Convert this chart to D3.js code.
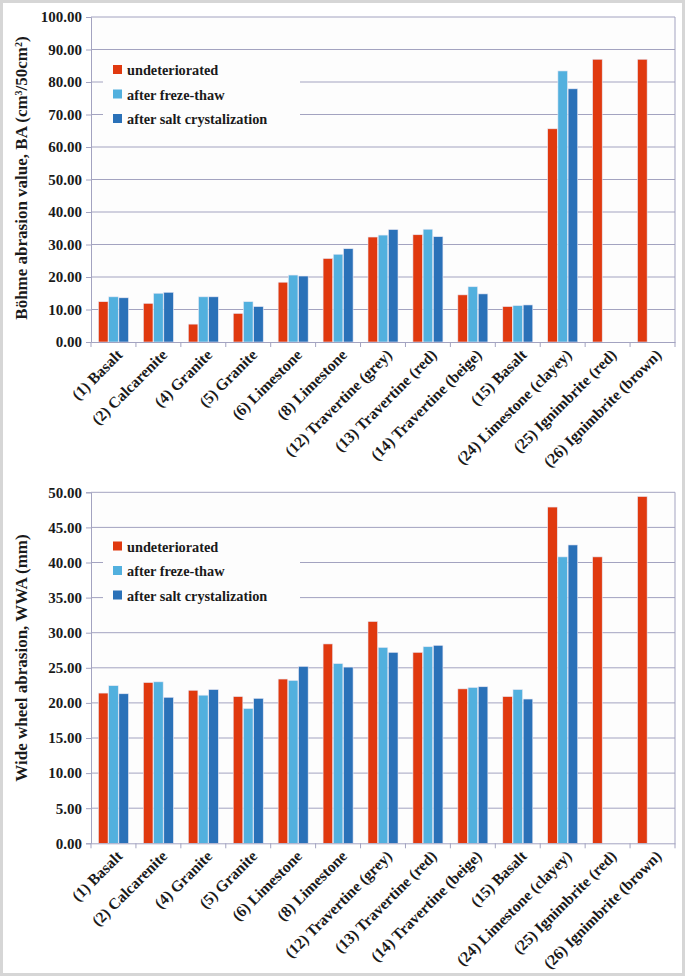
<!DOCTYPE html>
<html>
<head>
  <meta charset="utf-8">
  <title>Abrasion values</title>
  <script src="https://d3js.org/d3.v7.min.js"></script>
  <style>
    body { margin: 0; background: #fff; }
    text { font-family: "Liberation Serif", "DejaVu Serif Condensed", "DejaVu Serif", serif; font-weight: bold; fill: #1a1a1a; }
  </style>
</head>
<body>
  <div id="chart"></div>
  <script>
    var serif = '"Liberation Serif", "DejaVu Serif Condensed", "DejaVu Serif", serif';

    // categories (rock samples)
    var categories = ["(1) Basalt", "(2) Calcarenite", "(4) Granite", "(5) Granite", "(6) Limestone",
      "(8) Limestone", "(12) Travertine (grey)", "(13) Travertine (red)", "(14) Travertine (beige)",
      "(15) Basalt", "(24) Limestone (clayey)", "(25) Ignimbrite (red)", "(26) Ignimbrite (brown)"];
    var seriesNames = ["undeteriorated", "after freze-thaw", "after salt crystalization"];
    var seriesColors = ["#e0390f", "#52b0de", "#2a71b8"];

    // Böhme abrasion, BA (cm3/50cm2)
    var bohmeUndeteriorated = [12.4, 11.9, 5.5, 8.8, 18.4, 25.7, 32.3, 33.0, 14.5, 10.9, 65.6, 87.0, 87.0];
    var bohmeFreezeThaw = [13.9, 15.0, 13.9, 12.4, 20.6, 27.0, 32.9, 34.7, 17.0, 11.2, 83.4, null, null];
    var bohmeSalt = [13.6, 15.3, 13.9, 10.9, 20.3, 28.7, 34.6, 32.4, 14.8, 11.4, 77.9, null, null];
    var bohmeTicks = [0, 10, 20, 30, 40, 50, 60, 70, 80, 90, 100];

    // Wide wheel abrasion, WWA (mm)
    var wwaUndeteriorated = [21.4, 22.9, 21.8, 20.9, 23.4, 28.4, 31.6, 27.2, 22.0, 20.9, 47.9, 40.8, 49.4];
    var wwaFreezeThaw = [22.45, 23.0, 21.1, 19.2, 23.2, 25.6, 27.9, 28.0, 22.2, 21.9, 40.8, null, null];
    var wwaSalt = [21.3, 20.8, 21.9, 20.65, 25.2, 25.1, 27.2, 28.2, 22.3, 20.55, 42.5, null, null];
    var wwaTicks = [0, 5, 10, 15, 20, 25, 30, 35, 40, 45, 50];

    var svg = d3.select("#chart").append("svg")
      .attr("width", 685)
      .attr("height", 976);

    // figure frame
    svg.append("rect")
      .attr("x", 1.5).attr("y", 1.5)
      .attr("width", 682).attr("height", 973)
      .attr("fill", "#fff")
      .attr("stroke", "#d6d6d6")
      .attr("stroke-width", 3);

    var gridColor = "#a3a3c0";

    function drawChart(opts) {
      var left = 91, right = 675;
      var x = d3.scaleBand().domain(categories).range([left, right]);
      var inner = d3.scaleBand().domain(seriesNames)
        .range([(x.bandwidth() - 30) / 2, (x.bandwidth() + 30) / 2])
        .paddingInner(0.06);
      var y = d3.scaleLinear().domain([0, opts.max]).range([opts.bottom, opts.top]);

      var g = svg.append("g");

      // plot background
      g.append("rect")
        .attr("x", left).attr("y", y(opts.max))
        .attr("width", right - left).attr("height", y(0) - y(opts.max))
        .attr("fill", "#fdfdfd");

      // gridlines
      g.append("g").selectAll("line")
        .data(opts.ticks.slice(1))
        .enter().append("line")
        .attr("x1", left).attr("x2", right)
        .attr("y1", function(d) { return y(d); })
        .attr("y2", function(d) { return y(d); })
        .attr("stroke", gridColor)
        .attr("stroke-width", 1);

      // right border
      g.append("line")
        .attr("x1", right).attr("x2", right)
        .attr("y1", y(opts.max)).attr("y2", y(0))
        .attr("stroke", gridColor);

      // legend box covers the gridlines
      var lg = g.append("g");
      lg.append("rect")
        .attr("x", 103).attr("y", opts.legendTop - 16)
        .attr("width", 197).attr("height", 72)
        .attr("fill", "#fdfdfd");
      seriesNames.forEach(function(name, i) {
        var cy = opts.legendTop + i * 24.5;
        lg.append("rect")
          .attr("x", 113).attr("y", cy - 5)
          .attr("width", 9).attr("height", 9)
          .attr("fill", seriesColors[i]);
        lg.append("text")
          .attr("x", 127).attr("y", cy)
          .attr("dy", "0.35em")
          .style("font-size", "14.3px")
          .text(name);
      });

      // bars
      var series = opts.series;
      series.forEach(function(values, si) {
        g.append("g").selectAll("rect")
          .data(values.map(function(v, i) { return {cat: categories[i], value: v}; })
            .filter(function(d) { return d.value != null; }))
          .enter().append("rect")
          .attr("x", function(d) { return x(d.cat) + inner(seriesNames[si]); })
          .attr("width", inner.bandwidth())
          .attr("y", function(d) { return y(d.value); })
          .attr("height", function(d) { return y(0) - y(d.value); })
          .attr("fill", seriesColors[si])
          .attr("stroke", "#e8e8f4")
          .attr("stroke-width", 0.6);
      });

      // y axis
      var ya = g.append("g")
        .attr("transform", "translate(" + left + ",0)")
        .call(d3.axisLeft(y).tickValues(opts.ticks).tickFormat(d3.format(".2f")).tickSize(5).tickPadding(4));
      ya.selectAll("line").attr("stroke", gridColor);
      ya.select(".domain").attr("stroke", gridColor);
      ya.selectAll("text")
        .style("font-family", serif)
        .style("font-weight", "bold")
        .style("font-size", "15px")
        .attr("fill", "#1a1a1a");

      // x axis
      var xa = g.append("g")
        .attr("transform", "translate(0," + y(0) + ")")
        .call(d3.axisBottom(x).tickSize(0).tickSizeOuter(0));
      xa.select(".domain").attr("stroke", gridColor);
      xa.selectAll("text")
        .style("font-family", serif)
        .style("font-weight", "bold")
        .style("font-size", "15.6px")
        .attr("fill", "#1a1a1a")
        .attr("text-anchor", "end")
        .attr("y", 0).attr("dy", "0.35em")
        .attr("transform", "translate(6,10) rotate(-45)");

      // category boundary ticks
      g.append("g").selectAll("line")
        .data(categories.map(function(c) { return x(c); }).concat([right]))
        .enter().append("line")
        .attr("x1", function(d) { return d; }).attr("x2", function(d) { return d; })
        .attr("y1", y(0)).attr("y2", y(0) + 5)
        .attr("stroke", gridColor);

      // y axis title
      var title = g.append("text")
        .attr("transform", "translate(" + 27 + "," + opts.titleY + ") rotate(-90)")
        .attr("text-anchor", "middle")
        .style("font-size", "17px");
      opts.title.forEach(function(part) {
        var t = title.append("tspan").text(part.t);
        if (part.sup) t.attr("baseline-shift", "super").style("font-size", "10px");
      });
    }

    drawChart({
      top: 17, bottom: 342, max: 100, ticks: bohmeTicks, legendTop: 70, titleY: 178,
      series: [bohmeUndeteriorated, bohmeFreezeThaw, bohmeSalt],
      title: [{t: "Böhme abrasion value, BA (cm"}, {t: "3", sup: true}, {t: "/50cm"}, {t: "2", sup: true}, {t: ")"}]
    });

    drawChart({
      top: 492.3, bottom: 843.3, max: 50, ticks: wwaTicks, legendTop: 546.5, titleY: 658,
      series: [wwaUndeteriorated, wwaFreezeThaw, wwaSalt],
      title: [{t: "Wide wheel abrasion, WWA (mm)"}]
    });
  </script>
</body>
</html>
